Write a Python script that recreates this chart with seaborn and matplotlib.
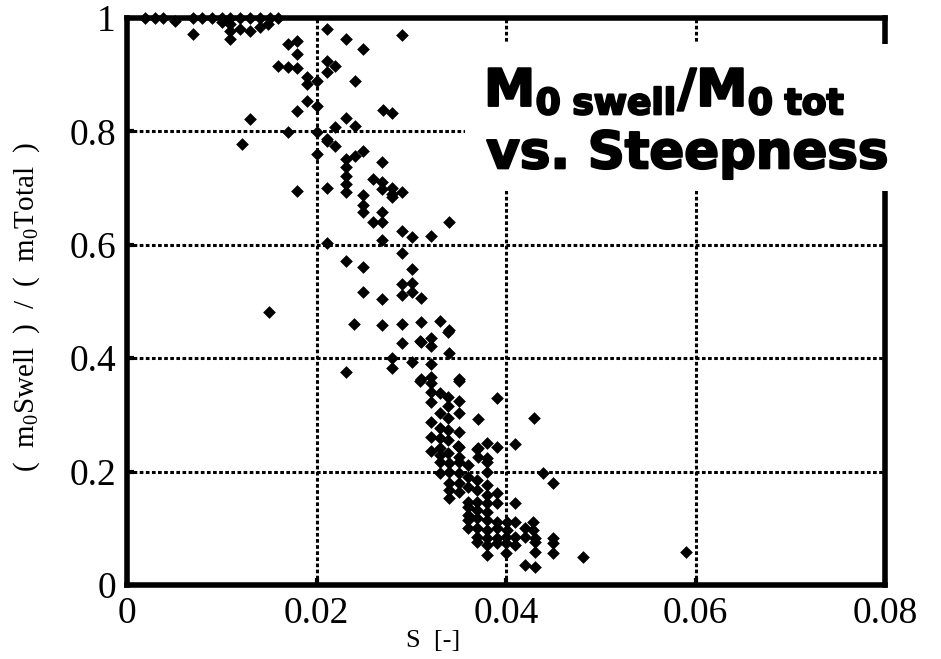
import pandas as pd
import matplotlib
matplotlib.use('Agg')
import matplotlib.pyplot as plt
import matplotlib.patheffects as pe
from matplotlib.patches import Rectangle
from matplotlib.ticker import FuncFormatter
import seaborn as sns

# wave steepness S [-] and swell part of the zeroth moment
steepness = [
    # top row, almost pure swell
    0.0019, 0.0030, 0.0038, 0.0051, 0.0070, 0.0079, 0.0090, 0.0100, 0.0109, 0.0119, 0.0130, 0.0140, 0.0151, 0.0159,
    0.0070, 0.0109, 0.0109, 0.0109, 0.0119, 0.0130, 0.0140, 0.0149, 0.0100,
    0.0170, 0.0179, 0.0179, 0.0159, 0.0170, 0.0179, 0.0190, 0.0190, 0.0200, 0.0190, 0.0179, 0.0200, 0.0130, 0.0170,
    0.0200, 0.0211, 0.0121,
    # 0.02 - 0.03
    0.0211, 0.0290, 0.0231, 0.0249, 0.0211, 0.0211, 0.0220, 0.0241, 0.0270, 0.0280, 0.0231, 0.0241, 0.0220, 0.0211,
    0.0220, 0.0200, 0.0249, 0.0241, 0.0231, 0.0269, 0.0231, 0.0231, 0.0231, 0.0231, 0.0260, 0.0269, 0.0269, 0.0280,
    0.0290, 0.0280, 0.0179, 0.0211, 0.0249,
    0.0280, 0.0249, 0.0249, 0.0269, 0.0269, 0.0260, 0.0290, 0.0301, 0.0321, 0.0340, 0.0269, 0.0211, 0.0290, 0.0231,
    0.0249, 0.0301, 0.0290, 0.0301, 0.0301, 0.0290, 0.0310, 0.0249, 0.0269, 0.0240, 0.0269, 0.0290, 0.0310, 0.0330,
    0.0340, 0.0321, 0.0321, 0.0310, 0.0290, 0.0340, 0.0280, 0.0301, 0.0321, 0.0280, 0.0231, 0.0310, 0.0321, 0.0350,
    0.0150,
    # dense part
    0.0309, 0.0339, 0.0309, 0.0321, 0.0350, 0.0321, 0.0330, 0.0339, 0.0350, 0.0391, 0.0321, 0.0339, 0.0330, 0.0350,
    0.0321, 0.0339, 0.0370, 0.0330, 0.0339, 0.0321, 0.0350, 0.0330, 0.0339, 0.0380, 0.0391, 0.0350, 0.0321, 0.0330,
    0.0370, 0.0330, 0.0339, 0.0350, 0.0370, 0.0380,
    # tail
    0.0349, 0.0369, 0.0410, 0.0330, 0.0340, 0.0350, 0.0360, 0.0380, 0.0330, 0.0340,
    0.0350, 0.0360, 0.0380, 0.0369, 0.0439, 0.0450, 0.0340, 0.0350, 0.0360, 0.0380,
    0.0340, 0.0340, 0.0350, 0.0369, 0.0391, 0.0380, 0.0360, 0.0360, 0.0369, 0.0380,
    0.0391, 0.0410, 0.0360, 0.0369, 0.0380, 0.0360, 0.0369, 0.0380, 0.0391, 0.0401,
    0.0410, 0.0428, 0.0360, 0.0369, 0.0380, 0.0391, 0.0401, 0.0420, 0.0428, 0.0369,
    0.0380, 0.0391, 0.0400, 0.0410, 0.0420, 0.0431, 0.0450, 0.0369, 0.0380, 0.0391,
    0.0400, 0.0410, 0.0431, 0.0450, 0.0380, 0.0400, 0.0431, 0.0450, 0.0420, 0.0431,
    0.0481, 0.0590, 0.0430,
]
swell_ratio = [
    1.0, 1.0, 1.0, 0.995, 1.0, 1.0, 1.0, 1.0, 1.0, 1.0, 1.0, 1.0, 1.0, 1.0,
    0.972, 0.989, 0.977, 0.963, 0.981, 0.977, 0.984, 0.989, 0.993,
    0.954, 0.959, 0.936, 0.915, 0.913, 0.912, 0.896, 0.883, 0.889, 0.853, 0.836, 0.845, 0.822, 0.799,
    0.799, 0.786, 0.777,
    0.981, 0.970, 0.963, 0.945, 0.924, 0.905, 0.915, 0.889, 0.837, 0.832, 0.823, 0.809, 0.807, 0.783,
    0.774, 0.760, 0.765, 0.756, 0.751, 0.746, 0.737, 0.721, 0.707, 0.693, 0.716, 0.710, 0.698, 0.701,
    0.693, 0.689, 0.694, 0.700, 0.687,
    0.684, 0.671, 0.657, 0.657, 0.641, 0.640, 0.625, 0.613, 0.615, 0.640, 0.608, 0.604, 0.585, 0.571,
    0.560, 0.558, 0.530, 0.532, 0.516, 0.511, 0.507, 0.516, 0.505, 0.461, 0.458, 0.461, 0.463, 0.465,
    0.449, 0.436, 0.422, 0.429, 0.426, 0.410, 0.401, 0.394, 0.389, 0.383, 0.375, 0.364, 0.367, 0.364,
    0.482,
    0.431, 0.447, 0.359, 0.357, 0.359, 0.341, 0.339, 0.332, 0.325, 0.330, 0.322, 0.316, 0.304, 0.304,
    0.288, 0.295, 0.292, 0.277, 0.274, 0.261, 0.269, 0.260, 0.256, 0.251, 0.244, 0.244, 0.237, 0.242,
    0.242, 0.230, 0.233, 0.226, 0.226, 0.224,
    0.246, 0.239, 0.249, 0.217, 0.216, 0.217, 0.212, 0.217, 0.198, 0.200,
    0.198, 0.191, 0.200, 0.186, 0.198, 0.180, 0.180, 0.180, 0.173, 0.177,
    0.168, 0.154, 0.164, 0.168, 0.163, 0.159, 0.147, 0.138, 0.147, 0.145,
    0.145, 0.145, 0.124, 0.133, 0.129, 0.115, 0.118, 0.115, 0.111, 0.111,
    0.111, 0.111, 0.101, 0.101, 0.097, 0.101, 0.097, 0.101, 0.097, 0.085,
    0.083, 0.083, 0.085, 0.085, 0.085, 0.083, 0.083, 0.076, 0.071, 0.074,
    0.074, 0.071, 0.076, 0.074, 0.053, 0.057, 0.058, 0.057, 0.035, 0.032,
    0.049, 0.058, 0.295,
]
x_ticks = [0, 0.02, 0.04, 0.06, 0.08]
y_ticks = [0, 0.2, 0.4, 0.6, 0.8, 1.0]

df = pd.DataFrame({'S': steepness, 'ratio': swell_ratio})

sns.set_style('ticks')
plt.rcParams['font.family'] = ['Liberation Serif', 'DejaVu Serif']
plt.rcParams['mathtext.default'] = 'regular'
plt.rcParams['text.color'] = 'black'
plt.rcParams['axes.labelcolor'] = 'black'

fig = plt.figure(figsize=(9.41, 6.59), dpi=100)
ax = fig.add_axes([0.135, 0.1123, 0.8055, 0.8604])

sns.scatterplot(data=df, x='S', y='ratio', marker='D', s=42, color='black',
                linewidth=0, ax=ax, zorder=3, clip_on=False)

ax.set_xlim(0, 0.08)
ax.set_ylim(0, 1)
ax.set_xticks(x_ticks)
ax.set_yticks(y_ticks)
fmt = FuncFormatter(lambda v, p: '%g' % v)
ax.xaxis.set_major_formatter(fmt)
ax.yaxis.set_major_formatter(fmt)
ax.grid(True, color='black', linestyle=(0, (1.2, 0.8)), linewidth=2.2)
ax.tick_params(direction='in', length=5, width=3, labelsize=27, pad=8, colors='black')
for sp in ax.spines.values():
    sp.set_visible(True)
    sp.set_linewidth(4)
    sp.set_color('black')

ax.set_xlabel('S  [-]', fontsize=19)
ax.xaxis.set_label_coords(0.404, -0.08)
ax.set_ylabel('(  m$_0$Swell  )  /  (  m$_0$Total  )', fontsize=21)
ax.yaxis.set_label_coords(-0.112, 0.49)

# white box behind the title, over the grid and right spine
ax.add_patch(Rectangle((0.446, 0.694), 0.57, 0.26, transform=ax.transAxes,
                       facecolor='white', edgecolor='none', clip_on=False, zorder=10))
heavy = [pe.withStroke(linewidth=1.6, foreground='black')]
ax.text(0.471, 0.845, 'M$_{0\\ swell}$/M$_{0\\ tot}$', transform=ax.transAxes, color='black',
        fontsize=37, fontweight='bold', family='DejaVu Sans', zorder=11, va='baseline',
        path_effects=heavy)
ax.text(0.474, 0.735, 'vs. Steepness', transform=ax.transAxes, color='black',
        fontsize=37, fontweight='bold', family='DejaVu Sans', zorder=11, va='baseline',
        path_effects=heavy)

plt.savefig('out.png', dpi=100)
